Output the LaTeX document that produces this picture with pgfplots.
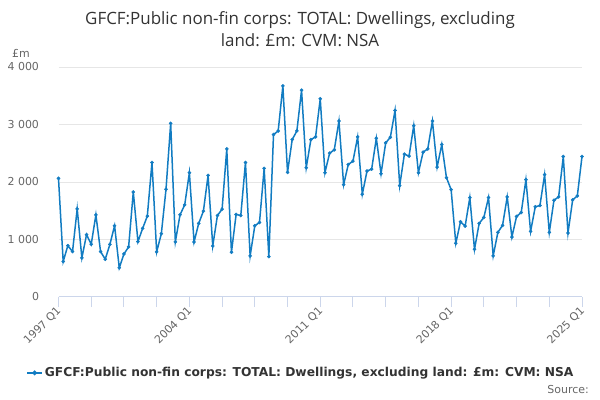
\documentclass[border=0pt]{standalone}
\usepackage{pgfplots}
\pgfplotsset{compat=1.18}
\usepackage{fontspec}
\setmainfont{DejaVu Sans}
\newfontfamily\titlefont{Open Sans}
\definecolor{linec}{RGB}{18,124,194}
\definecolor{gridc}{RGB}{230,230,230}
\definecolor{axisc}{RGB}{204,214,235}
\definecolor{tickc}{RGB}{102,102,102}
\definecolor{textc}{RGB}{51,51,51}
\begin{document}
\begin{tikzpicture}
\path[use as bounding box] (0,0) rectangle (600bp,400bp);
\begin{axis}[
  at={(58.5bp,103bp)}, anchor=south west,
  scale only axis, width=523.5bp, height=230bp,
  xmin=0, xmax=112, ymin=0, ymax=4000,
  axis x line*=bottom, axis y line*=left,
  x axis line style={draw=axisc, line width=1bp},
  y axis line style={draw=none},
  xtick={0,28,56,84,112},
  xticklabels={1997 Q1,2004 Q1,2011 Q1,2018 Q1,2025 Q1},
  minor xtick={7,14,21,35,42,49,63,70,77,91,98,105},
  tick align=outside,
  major tick length=10bp, minor tick length=10bp,
  every x tick/.style={draw=axisc, line width=1bp},
  every y tick/.style={draw=none},
  xticklabel style={rotate=45, anchor=east, font=\fontsize{11}{13}\selectfont, text=tickc, inner sep=1bp, yshift=-2bp},
  ytick={0,1000,2000,3000,4000},
  ymajorgrids, grid style={draw=gridc, line width=1bp},
  yticklabel style={font=\fontsize{11}{13}\selectfont, text=tickc, xshift=-6bp},
  /pgf/number format/assume math mode=true,
  /pgf/number format/1000 sep={\ },
  clip=false,
  legend style={at={(axis description cs:0.463,-0.33)}, anchor=center, draw=none, fill=none,
    font=\bfseries\fontsize{12.3}{14}\selectfont, text=textc},
  legend image code/.code={\draw[linec, line width=1.5bp] (0bp,0bp) -- (15bp,0bp); \fill[linec] (7.5bp,0bp) circle (1.6bp);},
]
\addplot[linec, line width=1.5bp, mark=*, mark size=1.6bp, mark options={fill=linec, draw=linec, line width=0.4bp}] coordinates {
(0,2063)(1,617)(2,893)(3,790)(4,1533)(5,680)(6,1084)(7,916)(8,1429)(9,790)
(10,657)(11,916)(12,1239)(13,507)(14,749)(15,870)(16,1827)(17,963)(18,1193)(19,1406)
(20,2340)(21,784)(22,1101)(23,1873)(24,3020)(25,960)(26,1429)(27,1602)(28,2161)(29,957)
(30,1280)(31,1493)(32,2115)(33,888)(34,1418)(35,1527)(36,2576)(37,778)(38,1435)(39,1418)
(40,2340)(41,715)(42,1239)(43,1297)(44,2236)(45,703)(46,2824)(47,2888)(48,3671)(49,2167)
(50,2738)(51,2888)(52,3597)(53,2248)(54,2738)(55,2784)(56,3447)(57,2161)(58,2501)(59,2559)
(60,3061)(61,1954)(62,2305)(63,2363)(64,2784)(65,1787)(66,2190)(67,2225)(68,2761)(69,2144)
(70,2680)(71,2778)(72,3245)(73,1937)(74,2484)(75,2450)(76,2980)(77,2161)(78,2519)(79,2576)
(80,3061)(81,2259)(82,2651)(83,2075)(84,1867)(85,934)(86,1308)(87,1233)(88,1729)(89,830)
(90,1280)(91,1383)(92,1729)(93,715)(94,1124)(95,1245)(96,1741)(97,1043)(98,1401)(99,1470)
(100,2040)(101,1141)(102,1568)(103,1591)(104,2127)(105,1124)(106,1683)(107,1741)(108,2444)(109,1112)
(110,1689)(111,1758)(112,2444)
};
\addlegendentry{GFCF:Public non-fin corps: TOTAL: Dwellings, excluding land: £m: CVM: NSA}
\end{axis}
\node[anchor=west, font=\fontsize{11}{13}\selectfont, text=tickc, inner sep=0pt] at (12bp,347bp) {£m};
\node[align=center, font=\titlefont\fontsize{17}{22}\selectfont, text=textc] at (300bp,371bp)
  {GFCF:Public non-fin corps: TOTAL: Dwellings, excluding\\ land: £m: CVM: NSA};
\node[anchor=east, font=\fontsize{11}{13}\selectfont, text=tickc, inner sep=0pt] at (589bp,10bp) {Source:};
\end{tikzpicture}
\end{document}
